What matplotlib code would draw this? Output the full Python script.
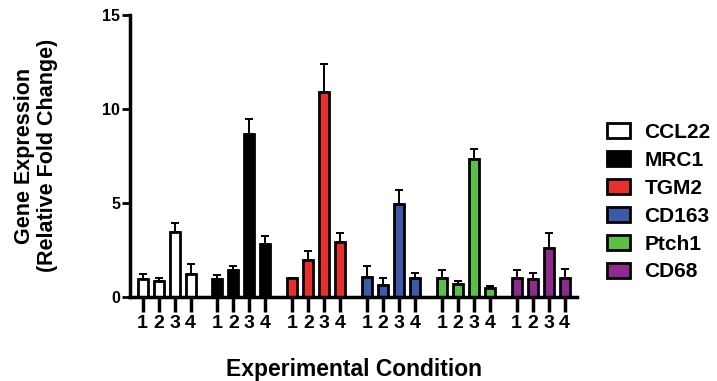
"""Grouped bar chart: gene expression by experimental condition."""
import matplotlib
matplotlib.use("Agg")
import matplotlib.pyplot as plt
from matplotlib.patches import Patch
import numpy as np

plt.rcParams["font.family"] = ["Liberation Sans", "DejaVu Sans"]
plt.rcParams["font.weight"] = "bold"

genes = ["CCL22", "MRC1", "TGM2", "CD163", "Ptch1", "CD68"]
conditions = ["1", "2", "3", "4"]
colors = ["#ffffff", "#000000", "#e8302a", "#3d5aa8", "#5cbf4a", "#8e2a90"]

# mean and upper error-bar end for each gene, conditions 1-4
means = [
    [0.95, 0.86, 3.47, 1.22],
    [0.95, 1.40, 8.69, 2.79],
    [0.98, 1.94, 10.9, 2.93],
    [1.04, 0.63, 4.94, 1.02],
    [0.99, 0.70, 7.35, 0.48],
    [0.99, 0.95, 2.61, 1.00],
]
upper = [
    [1.22, 0.99, 3.90, 1.72],
    [1.17, 1.62, 9.45, 3.23],
    [1.02, 2.42, 12.4, 3.41],
    [1.62, 0.97, 5.70, 1.26],
    [1.40, 0.86, 7.85, 0.58],
    [1.42, 1.26, 3.41, 1.49],
]

group_step = 4.675
bar_w = 0.62

fig = plt.figure(figsize=(7.17, 3.81), dpi=100)
ax = fig.add_axes([130 / 717, 1 - 296.7 / 381, 447 / 717, (296.7 - 15) / 381])

ticks = []
for g, gene in enumerate(genes):
    x = g * group_step + np.arange(len(conditions))
    m = np.array(means[g])
    err = np.array(upper[g]) - m
    ax.bar(x, m, width=bar_w, color=colors[g], edgecolor="black",
           linewidth=2, zorder=2)
    ax.errorbar(x, m, yerr=[np.zeros_like(err), err], fmt="none",
                ecolor="black", elinewidth=1.4, capsize=2.6, capthick=1.4,
                zorder=1)
    ticks.extend(x)

ax.set_xticks(ticks)
ax.set_xticklabels(conditions * len(genes), fontsize=14, fontweight="bold")
ax.set_xlim(-0.79, 5 * group_step + 3 + 0.77)
ax.set_ylim(0, 15)
ax.set_yticks([0, 5, 10, 15])
ax.tick_params(axis="y", labelsize=11.5, width=2, length=6, pad=1)
ax.tick_params(axis="x", width=2.5, length=11, pad=2, direction="out")
for lab in ax.get_yticklabels():
    lab.set_fontweight("bold")

for side in ("top", "right"):
    ax.spines[side].set_visible(False)
for side in ("left", "bottom"):
    ax.spines[side].set_linewidth(2.5)

ax.set_ylabel("Gene Expression\n(Relative Fold Change)", fontsize=15.5,
              fontweight="bold", labelpad=32, linespacing=1.1)
ax.set_xlabel("Experimental Condition", fontsize=16.5, fontweight="bold",
              labelpad=19)

handles = [Patch(facecolor=c, edgecolor="black", linewidth=2) for c in colors]
fig.legend(handles, genes, loc="upper left", bbox_to_anchor=(607 / 717, 0.678),
           frameon=False, fontsize=15, handlelength=1.1, handleheight=0.72,
           labelspacing=0.43, handletextpad=0.7, borderpad=0,
           borderaxespad=0)

fig.savefig("out.png", dpi=100)
